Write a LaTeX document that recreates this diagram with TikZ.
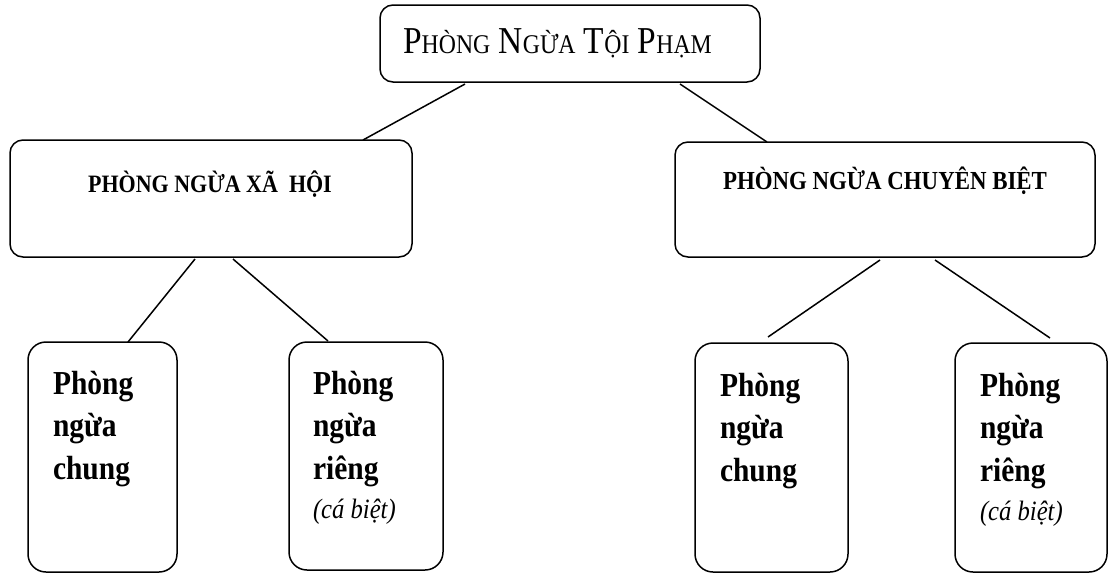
\documentclass[tikz,border=0pt]{standalone}
\usepackage{fontspec}
\setmainfont{Liberation Serif}[FakeStretch=0.88]
\newcommand{\capfirst}[2]{{\fontsize{38}{40}\selectfont #1}{\fontsize{27}{30}\selectfont #2}}

\begin{document}
\begin{tikzpicture}[x=1pt, y=-1pt, line width=1.5pt]
    \tikzstyle{every node}=[inner sep=0pt, outer sep=0pt]
    \tikzstyle{box}=[draw, rounded corners=13pt]
    \tikzstyle{leaf}=[draw, rounded corners=18pt, minimum width=152pt, minimum height=229pt]
    \tikzstyle{head}=[font=\bfseries\fontsize{25}{28}\selectfont, anchor=base]
    \tikzstyle{words}=[font=\bfseries\fontsize{33.5}{42.5}\selectfont, align=left, anchor=north west]

    \useasboundingbox (0,0) rectangle (1113,574);

% The boxes of the tree, top level first.

    \node[box, minimum width=380pt, minimum height=77pt] (root) at (570,43.5) {};
    \node[box, minimum width=402pt, minimum height=117pt] (social) at (211,198.5) {};
    \node[box, minimum width=420pt, minimum height=115pt] (special) at (885,199.5) {};
    \node[leaf, minimum width=149pt, minimum height=230pt] (socialgen) at (102.5,457) {};
    \node[leaf, minimum width=154pt, minimum height=228pt] (socialown) at (366,456) {};
    \node[leaf, minimum width=153pt] (specialgen) at (771.5,457.5) {};
    \node[leaf] (specialown) at (1031,457.5) {};

    \node[anchor=base, font=\fontsize{38}{40}\selectfont] (roottext) at (557.5,53)
        {\capfirst{P}{HÒNG} \capfirst{N}{GỪA} \capfirst{T}{ỘI} \capfirst{P}{HẠM}};
    \node[head] (socialtext) at (210,192) {PHÒNG NGỪA XÃ \ HỘI};
    \node[head, font=\bfseries\fontsize{26}{28}\selectfont] (specialtext) at (885,189) {PHÒNG NGỪA CHUYÊN BIỆT};

    \node[words] (socialgentext) at (53,371) {Phòng\\ngừa\\chung};
    \node[words] (socialowntext) at (313,371) {Phòng\\ngừa\\riêng\\[-3pt]{\mdseries\itshape\fontsize{28}{40}\selectfont (cá biệt)}};
    \node[words] (specialgentext) at (720,373) {Phòng\\ngừa\\chung};
    \node[words] (specialowntext) at (980,373) {Phòng\\ngừa\\riêng\\[-3pt]{\mdseries\itshape\fontsize{28}{40}\selectfont (cá biệt)}};

% The connectors, each from a parent to one child.

    \draw ([xshift=-105pt, yshift=-2pt]root.south) -- ([xshift=152pt]social.north);
    \draw ([xshift=110pt, yshift=-2pt]root.south) -- ([xshift=-118pt]special.north);
    \draw ([xshift=-16pt, yshift=-2pt]social.south) -- ([xshift=25.5pt]socialgen.north);
    \draw ([xshift=22pt, yshift=-2pt]social.south) -- ([xshift=-38pt, yshift=1pt]socialown.north);
    \draw ([xshift=-5pt, yshift=-3pt]special.south) -- ([xshift=-3.5pt, yshift=6pt]specialgen.north);
    \draw ([xshift=50pt, yshift=-3pt]special.south) -- ([xshift=19pt, yshift=5pt]specialown.north);

\end{tikzpicture}
\end{document}
